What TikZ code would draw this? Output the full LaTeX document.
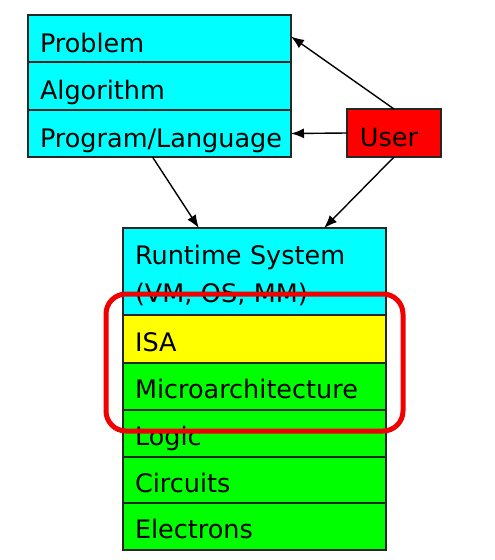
\documentclass[tikz,border=0pt]{standalone}
\usepackage{fontspec}
\setmainfont{DejaVu Sans}
\usetikzlibrary{arrows.meta,positioning,fit}
\definecolor{LayerCyan}{HTML}{00FFFF}
\definecolor{LayerYellow}{HTML}{FFFF00}
\definecolor{LayerGreen}{HTML}{00FF00}
\definecolor{UserRed}{HTML}{FF0000}
\definecolor{RingRed}{HTML}{F00000}
\definecolor{Edge}{HTML}{262626}

\begin{document}
\begin{tikzpicture}[x=1pt, y=-1pt,
  layer/.style={draw=Edge, line width=1.2pt, fill=LayerCyan, outer sep=0pt,
                minimum width=263pt, minimum height=47pt, text width=239pt,
                inner xsep=12pt, inner ysep=0pt, align=left,
                text height=26pt, text depth=2pt,
                font=\fontsize{25.5}{38}\selectfont},
  arr/.style={-{Latex[length=13pt,width=10pt]}, line width=1.4pt}]
  \useasboundingbox (0,0) rectangle (495,560);
  % top stack
  \node[layer, anchor=north west, text height=29pt] (prob) at (28,15) {Problem};
  \node[layer, below=0pt of prob, minimum height=48pt, text height=29pt] (algo) {Algorithm};
  \node[layer, below=0pt of algo, text height=29pt] (prog) {Program/Language};
  \node[layer, anchor=north west, fill=UserRed, minimum width=94pt, minimum height=48pt,
        text width=, align=center, text height=28pt] (user) at (347,109) {User\hspace{10pt}};
  % bottom stack
  \node[layer, anchor=north west, minimum height=87pt, text height=27pt, text depth=]
       (rt) at (123,228) {Runtime System\\(VM, OS, MM)};
  \node[layer, below=0pt of rt, fill=LayerYellow, minimum height=48pt] (isa) {ISA};
  \node[layer, below=0pt of isa, fill=LayerGreen] (micro) {Microarchitecture};
  \node[layer, below=0pt of micro, fill=LayerGreen] (logic) {Logic};
  \node[layer, below=0pt of logic, fill=LayerGreen, minimum height=46pt] (circ) {Circuits};
  \node[layer, below=0pt of circ, fill=LayerGreen] (elec) {Electrons};
  % highlight
  \node[draw=RingRed, line width=5pt, rounded corners=20pt, inner xsep=17pt,
        inner ysep=21pt, fit=(isa) (micro)] (ring) {};
  % connectors
  \draw[arr] (user.north) -- ([yshift=2pt]prob.east);
  \draw[arr] (user.west) -- (prog.east);
  \draw[arr] (user.south) -- (rt.32);
  \draw[arr] ([xshift=-7pt]prog.south) -- (rt.142);
\end{tikzpicture}
\end{document}
